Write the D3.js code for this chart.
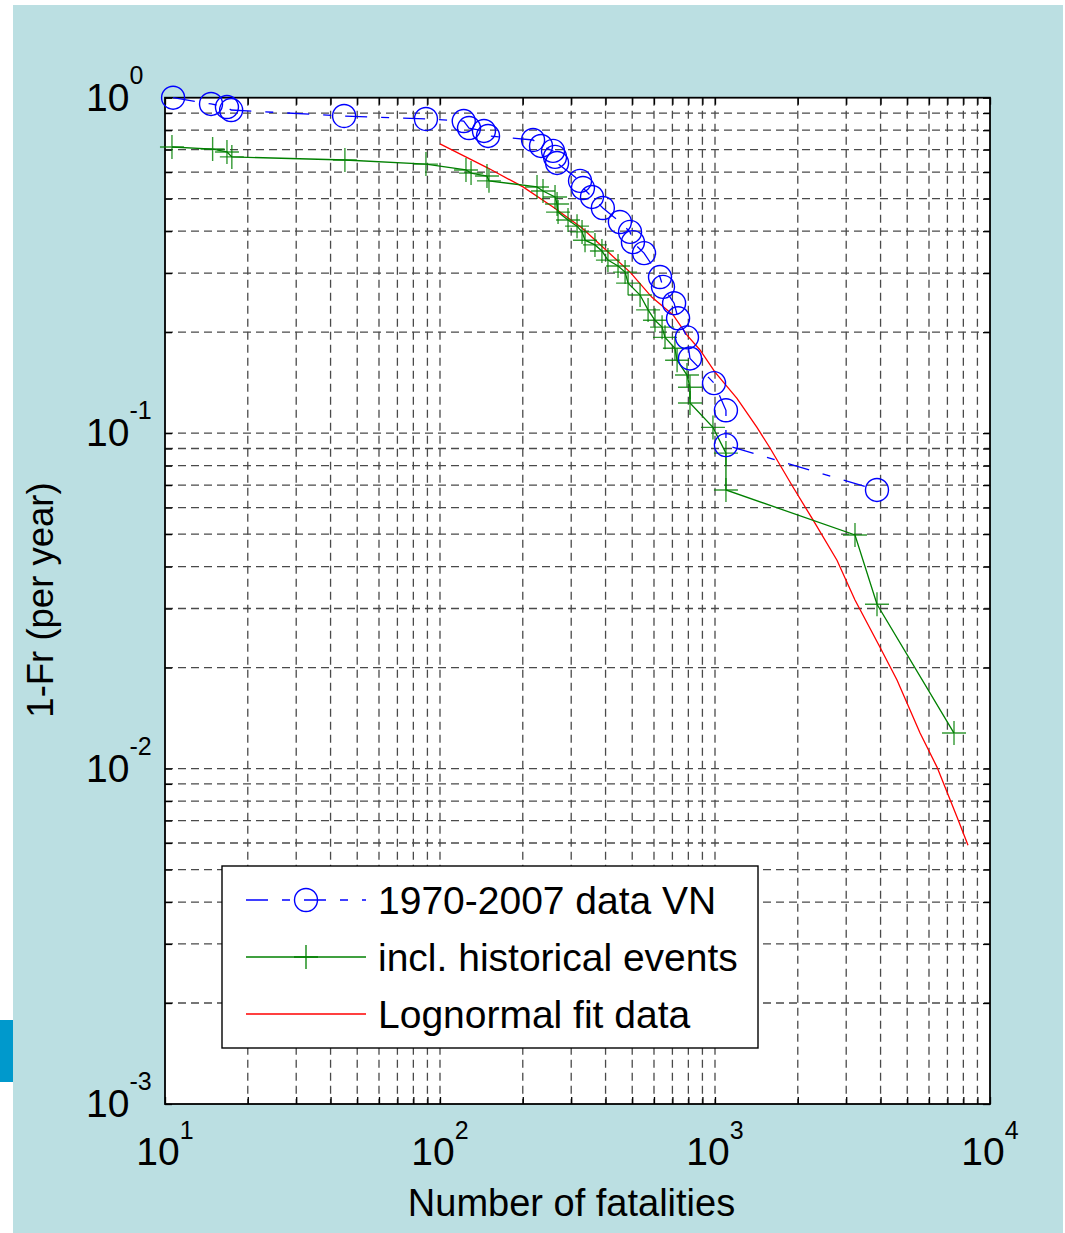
<!DOCTYPE html>
<html>
<head>
<meta charset="utf-8">
<script src="https://cdn.jsdelivr.net/npm/d3@7"></script>
<style>
  html, body { margin: 0; padding: 0; background: #fff; }
  svg { display: block; font-family: "Liberation Sans", Arial, Helvetica, sans-serif; }
</style>
</head>
<body>
<div id="chart"></div>
<script>
// 1970-2007 data VN (fatalities, 1-Fr per year)
const vnFatalities = [10.7, 14.7, 16.8, 17.4, 44.8, 88.9, 122, 127.5, 144.5, 149.5, 218, 233, 257.6, 262, 266.5,
  323, 331, 357, 391, 451, 491, 503, 552, 631, 647, 710, 734, 791, 811, 992, 1096, 1096, 3882];
const vnFreq = [1.0, 0.958, 0.938, 0.919, 0.882, 0.864, 0.852, 0.812, 0.796, 0.769, 0.748, 0.718, 0.694, 0.666, 0.639,
  0.565, 0.538, 0.506, 0.469, 0.426, 0.398, 0.371, 0.344, 0.292, 0.273, 0.244, 0.220, 0.193, 0.167, 0.141, 0.117, 0.0921, 0.0677];

// incl. historical events
const histFatalities = [10.6, 14.9, 16.8, 17.5, 45.1, 88.9, 124.3, 129.7, 148.2, 150.7, 225.3, 236.9, 262, 266.5, 268.7,
  292.1, 315, 328.5, 336.8, 366, 388, 408, 444, 471, 483, 534, 571, 605, 642, 658, 715, 728, 791, 811, 811,
  983, 1096, 1096, 3229, 3882, 7398];
const histFreq = [0.713, 0.703, 0.689, 0.666, 0.652, 0.634, 0.609, 0.596, 0.584, 0.565, 0.542, 0.527, 0.506, 0.482, 0.456,
  0.432, 0.414, 0.398, 0.376, 0.364, 0.349, 0.328, 0.315, 0.302, 0.280, 0.258, 0.233, 0.217, 0.207, 0.193, 0.179, 0.165, 0.149, 0.137, 0.123,
  0.104, 0.0872, 0.0677, 0.0497, 0.0309, 0.01276];

// Lognormal fit data
const fitFatalities = [100, 149.5, 200.4, 257.6, 328.5, 405, 491, 590, 704, 791, 882, 1000, 1202, 1421, 1585,
  1921, 2272, 2777, 3229, 3981, 4590, 5567, 6417, 7586, 8318];
const fitFreq = [0.728, 0.617, 0.542, 0.472, 0.409, 0.349, 0.302, 0.254, 0.225, 0.196, 0.177, 0.152, 0.127, 0.104, 0.0903,
  0.0691, 0.0551, 0.0418, 0.0318, 0.0230, 0.01836, 0.01276, 0.01010, 0.00717, 0.00591];

const xTickExponents = [1, 2, 3, 4];
const yTickExponents = [0, -1, -2, -3];
const legendLabels = ["1970-2007 data VN", "incl. historical events", "Lognormal fit data"];

const width = 1065;
const height = 1233;
const plot = { left: 165, right: 990, top: 97.7, bottom: 1104 };

const colors = { vn: "#0000ff", hist: "#008000", fit: "#ff0000" };
const vnDash = "22,14,8,14";

const svg = d3.select("#chart").append("svg")
  .attr("width", width)
  .attr("height", height)
  .attr("viewBox", [0, 0, width, height]);

// page background
svg.append("rect").attr("x", 13).attr("y", 5).attr("width", 1050).attr("height", height - 5).attr("fill", "#bbdfe2");
svg.append("rect").attr("x", 0).attr("y", 1020).attr("width", 13).attr("height", 62).attr("fill", "#0099cc");

const x = d3.scaleLog().domain([10, 1e4]).range([plot.left, plot.right]);
const y = d3.scaleLog().domain([1e-3, 1]).range([plot.bottom, plot.top]);

svg.append("rect")
  .attr("x", plot.left).attr("y", plot.top)
  .attr("width", plot.right - plot.left).attr("height", plot.bottom - plot.top)
  .attr("fill", "#fff");

// grid, major and minor
const grid = svg.append("g").attr("class", "grid")
  .attr("stroke", "#4a4a4a").attr("stroke-width", 1.3).attr("stroke-dasharray", "8,5");

grid.selectAll(".gx")
  .data(x.ticks().filter((d) => d > 10 && d < 1e4))
  .join("line")
  .attr("class", "gx")
  .attr("x1", (d) => x(d)).attr("x2", (d) => x(d))
  .attr("y1", plot.top).attr("y2", plot.bottom);

grid.selectAll(".gy")
  .data(y.ticks().filter((d) => d > 1e-3 && d < 1))
  .join("line")
  .attr("class", "gy")
  .attr("y1", (d) => y(d)).attr("y2", (d) => y(d))
  .attr("x1", plot.left).attr("x2", plot.right);

// inside ticks on all four sides
const tickLen = -7;
const axes = [
  [d3.axisBottom(x), `translate(0,${plot.bottom})`],
  [d3.axisTop(x), `translate(0,${plot.top})`],
  [d3.axisLeft(y), `translate(${plot.left},0)`],
  [d3.axisRight(y), `translate(${plot.right},0)`],
];
axes.forEach(([axis, transform]) => {
  svg.append("g")
    .attr("transform", transform)
    .call(axis.tickSizeInner(tickLen).tickSizeOuter(0).tickFormat(""))
    .call((g) => g.select(".domain").remove())
    .call((g) => g.selectAll(".tick line").attr("stroke", "#000").attr("stroke-width", 1.3));
});

svg.append("rect")
  .attr("x", plot.left).attr("y", plot.top)
  .attr("width", plot.right - plot.left).attr("height", plot.bottom - plot.top)
  .attr("fill", "none").attr("stroke", "#000").attr("stroke-width", 1.8);

// tick labels 10^n
svg.append("g").selectAll("text")
  .data(xTickExponents)
  .join("text")
  .attr("x", (d) => x(Math.pow(10, d)))
  .attr("y", plot.bottom + 61)
  .attr("text-anchor", "middle")
  .attr("font-size", 39)
  .attr("fill", "#000")
  .call((t) => t.append("tspan").text("10"))
  .call((t) => t.append("tspan").attr("dy", -26).attr("font-size", 25).text((d) => d));

svg.append("g").selectAll("text")
  .data(yTickExponents)
  .join("text")
  .attr("x", 86)
  .attr("y", (d) => y(Math.pow(10, d)) + 13)
  .attr("font-size", 39)
  .attr("fill", "#000")
  .call((t) => t.append("tspan").text("10"))
  .call((t) => t.append("tspan").attr("dy", -27).attr("font-size", 25).text((d) => d < 0 ? "-" + Math.abs(d) : d));

// axis titles
svg.append("text")
  .attr("x", (plot.left + plot.right) / 2 - 6)
  .attr("y", 1216)
  .attr("text-anchor", "middle")
  .attr("font-size", 38)
  .text("Number of fatalities");

svg.append("text")
  .attr("transform", "translate(53,600) rotate(-90)")
  .attr("text-anchor", "middle")
  .attr("font-size", 36.5)
  .text("1-Fr (per year)");

// series
const line = d3.line().x((d) => x(d[0])).y((d) => y(d[1]));
const vnData = d3.zip(vnFatalities, vnFreq);
const histData = d3.zip(histFatalities, histFreq);
const fitData = d3.zip(fitFatalities, fitFreq);

const series = svg.append("g").attr("class", "series").attr("fill", "none");

series.append("path")
  .attr("d", line(fitData))
  .attr("stroke", colors.fit).attr("stroke-width", 1.3);

series.append("path")
  .attr("d", line(histData))
  .attr("stroke", colors.hist).attr("stroke-width", 1.3);

series.append("g")
  .selectAll("path")
  .data(histData)
  .join("path")
  .attr("d", (d) => `M${x(d[0]) - 12},${y(d[1])}h24M${x(d[0])},${y(d[1]) - 12}v24`)
  .attr("stroke", colors.hist).attr("stroke-width", 1.4).attr("stroke-opacity", 0.8);

series.append("path")
  .attr("d", line(vnData))
  .attr("stroke", colors.vn).attr("stroke-width", 1.3).attr("stroke-dasharray", vnDash);

series.append("g")
  .selectAll("circle")
  .data(vnData)
  .join("circle")
  .attr("cx", (d) => x(d[0]))
  .attr("cy", (d) => y(d[1]))
  .attr("r", 11.5)
  .attr("stroke", colors.vn).attr("stroke-width", 1.4);

// legend
const legend = svg.append("g").attr("class", "legend");
legend.append("rect")
  .attr("x", 222).attr("y", 866).attr("width", 536).attr("height", 182)
  .attr("fill", "#fff").attr("stroke", "#000").attr("stroke-width", 1.4);

const rowY = [900, 957, 1014];
const rows = legend.selectAll(".legend-row")
  .data(legendLabels)
  .join("g")
  .attr("class", "legend-row")
  .attr("transform", (d, i) => `translate(0,${rowY[i]})`);

rows.append("text")
  .attr("x", 378).attr("y", 14)
  .attr("font-size", 39)
  .text((d) => d);

rows.filter((d, i) => i === 0)
  .call((g) => g.append("line").attr("x1", 246).attr("x2", 366)
    .attr("stroke", colors.vn).attr("stroke-width", 1.3).attr("stroke-dasharray", vnDash))
  .call((g) => g.append("circle").attr("cx", 306).attr("r", 11.5)
    .attr("fill", "none").attr("stroke", colors.vn).attr("stroke-width", 1.4));

rows.filter((d, i) => i === 1)
  .call((g) => g.append("line").attr("x1", 246).attr("x2", 366)
    .attr("stroke", colors.hist).attr("stroke-width", 1.3))
  .call((g) => g.append("path").attr("d", "M294,0h24M306,-12v24")
    .attr("stroke", colors.hist).attr("stroke-width", 1.3));

rows.filter((d, i) => i === 2)
  .call((g) => g.append("line").attr("x1", 246).attr("x2", 366)
    .attr("stroke", colors.fit).attr("stroke-width", 1.3));
</script>
</body>
</html>
